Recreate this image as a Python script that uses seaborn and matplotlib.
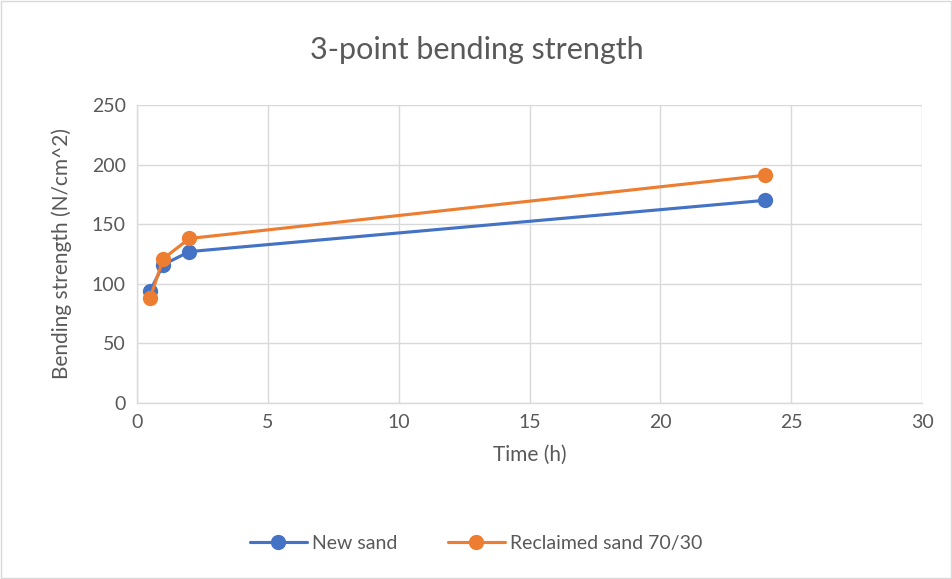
import pandas as pd
import numpy as np
import matplotlib.pyplot as plt
import seaborn as sns

# data
time_h = [0.5, 1, 2, 24]
new_sand = [94, 116, 127, 170]
reclaimed_sand = [88, 121, 138, 191]
series_names = ["New sand", "Reclaimed sand 70/30"]

df = pd.DataFrame({
    "Time (h)": time_h * 2,
    "Bending strength": new_sand + reclaimed_sand,
    "Series": [series_names[0]] * len(time_h) + [series_names[1]] * len(time_h),
})

sns.set_theme(style="white")
plt.rcParams["font.family"] = ["Lato", "DejaVu Sans"]
text_col = "#595959"
grid_col = "#D9D9D9"

fig = plt.figure(figsize=(9.53, 5.79), dpi=100)
ax = fig.add_axes([0.1438, 0.304, 0.8237, 0.5147])

sns.lineplot(data=df, x="Time (h)", y="Bending strength", hue="Series",
             palette=["#4472C4", "#ED7D31"], marker="o", markersize=11,
             markeredgewidth=0, linewidth=2.25, ax=ax)

ax.set_xlim(0, 30)
ax.set_ylim(0, 250)
ax.set_xticks(np.arange(0, 31, 5))
ax.set_yticks(np.arange(0, 251, 50))
ax.grid(True, color=grid_col, linewidth=1)
ax.set_axisbelow(True)
for s in ["top", "right"]:
    ax.spines[s].set_visible(False)
for s in ["left", "bottom"]:
    ax.spines[s].set_color(grid_col)
    ax.spines[s].set_linewidth(1)
ax.tick_params(axis="both", colors=text_col, labelsize=14, length=0, pad=8)
ax.set_xlabel("Time (h)", fontsize=15, color=text_col, labelpad=10)
ax.set_ylabel("Bending strength (N/cm^2)", fontsize=15, color=text_col, labelpad=14)

fig.text(0.5, 0.913, "3-point bending strength", ha="center", va="center",
         fontsize=22, color=text_col)

handles, labels = ax.get_legend_handles_labels()
ax.legend_.remove()
fig.legend(handles, labels, loc="center", bbox_to_anchor=(0.5, 0.062), ncol=2,
           frameon=False, fontsize=14, labelcolor=text_col, handlelength=2.9,
           columnspacing=2.6, handletextpad=0.3)

fig.patches.append(plt.Rectangle((0.001, 0.002), 0.997, 0.996, transform=fig.transFigure,
                                 fill=False, edgecolor=grid_col, linewidth=1))

fig.savefig("out.png", dpi=100)
